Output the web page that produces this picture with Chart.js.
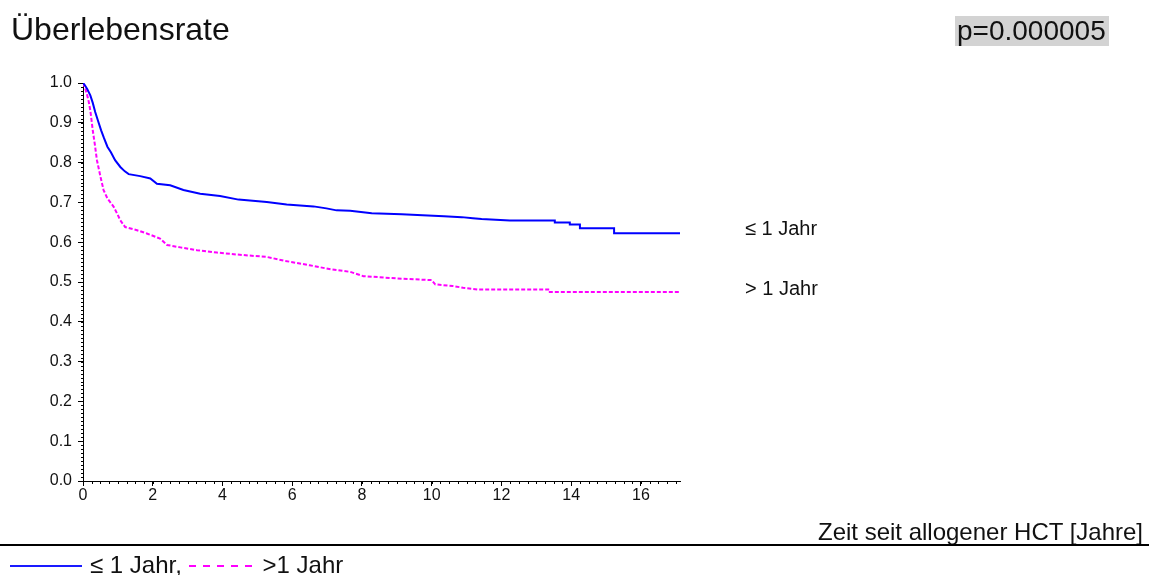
<!DOCTYPE html>
<html>
<head>
<meta charset="utf-8">
<script src="https://cdn.jsdelivr.net/npm/chart.js@4"></script>
<style>
  body { margin: 0; background: #fff; font-family: "Liberation Sans", Arial, sans-serif; color: #111; }
  #wrap { position: relative; width: 1154px; height: 575px; overflow: hidden; }
  #chart { position: absolute; left: 0; top: 0; }
  .txt { position: absolute; white-space: nowrap; }
  #title { left: 11px; top: 13px; font-size: 32px; line-height: 32px; }
  #pval { left: 955px; top: 16px; font-size: 28px; line-height: 30px; background: #d3d3d3; padding: 0 3px 0 2px; }
  .lbl { font-size: 20px; line-height: 20px; left: 745px; }
  #xtitle { right: 11px; top: 520px; font-size: 24px; line-height: 24px; }
  #rule { position: absolute; left: 0; top: 544px; width: 1149px; height: 2px; background: #000; }
  #legend { left: 10px; top: 553px; font-size: 24px; line-height: 24px; }
  .sw { display: inline-block; vertical-align: middle; width: 72px; height: 2px; margin-right: 8px; position: relative; top: -1px; }
  .solid { background: #1a1aff; }
  .dash { width: 66px; margin-left: 0; background: repeating-linear-gradient(90deg, #ff00ff 0 7px, transparent 7px 14px); }
</style>
</head>
<body>
<div id="wrap">
  <canvas id="chart" width="1154" height="575"></canvas>
  <div class="txt" id="title">Überlebensrate</div>
  <div class="txt" id="pval">p=0.000005</div>
  <div class="txt lbl" style="top:218px">≤ 1 Jahr</div>
  <div class="txt lbl" style="top:278px">&gt; 1 Jahr</div>
  <div class="txt" id="xtitle">Zeit seit allogener HCT [Jahre]</div>
  <div id="rule"></div>
  <div class="txt" id="legend"><span class="sw solid"></span>≤ 1 Jahr, <span class="sw dash"></span>&gt;1 Jahr</div>
</div>
<script>
// survival, group <= 1 year (repeated times mark the visible steps)
const timesLow = [0, 0.05, 0.12, 0.21, 0.28, 0.35, 0.43, 0.52, 0.6, 0.7, 0.8, 0.92, 1.07, 1.2, 1.31, 1.64, 1.93, 2.12, 2.5, 2.88, 3.36, 3.93, 4.46, 5.27, 5.84, 6.61, 6.98, 7.27, 7.66, 8.28, 9.14, 9.74, 10.35, 10.86, 11.18, 11.43, 12.24, 13.53, 13.53, 13.96, 13.96, 14.25, 14.25, 15.23, 15.23, 17.15];
const survLow = [1.0, 0.995, 0.985, 0.969, 0.95, 0.927, 0.905, 0.881, 0.862, 0.84, 0.826, 0.806, 0.789, 0.778, 0.771, 0.766, 0.76, 0.747, 0.743, 0.731, 0.722, 0.716, 0.707, 0.701, 0.695, 0.69, 0.685, 0.68, 0.679, 0.673, 0.67, 0.668, 0.665, 0.663, 0.66, 0.658, 0.6545, 0.6545, 0.6495, 0.6495, 0.6445, 0.6445, 0.635, 0.635, 0.6226, 0.6226];

// survival, group > 1 year
const timesHigh = [0, 0.05, 0.11, 0.16, 0.21, 0.28, 0.34, 0.4, 0.5, 0.59, 0.7, 0.88, 1.0, 1.07, 1.21, 1.55, 1.83, 2.21, 2.41, 2.79, 3.27, 3.84, 4.41, 5.27, 5.8, 6.5, 7.1, 7.66, 8.04, 9.0, 10.0, 10.1, 10.6, 10.9, 11.34, 13.34, 13.34, 17.15];
const survHigh = [1.0, 0.99, 0.973, 0.955, 0.931, 0.881, 0.845, 0.806, 0.765, 0.731, 0.71, 0.689, 0.668, 0.655, 0.638, 0.63, 0.622, 0.609, 0.593, 0.587, 0.58, 0.574, 0.569, 0.563, 0.553, 0.542, 0.532, 0.5255, 0.5147, 0.509, 0.5047, 0.494, 0.49, 0.4855, 0.481, 0.481, 0.475, 0.475];

const xTicks = [0, 2, 4, 6, 8, 10, 12, 14, 16];
const yTicks = [0.0, 0.1, 0.2, 0.3, 0.4, 0.5, 0.6, 0.7, 0.8, 0.9, 1.0];

const xMax = 17.12;

function pts(xs, ys) {
    return xs.map((x, i) => ({ x: x, y: ys[i] }));
}

// small ticks between the labelled ones
const minorTicks = {
    id: 'minorTicks',
    afterDraw(chart) {
        const ctx = chart.ctx;
        const xs = chart.scales.x, ys = chart.scales.y;
        const x0 = xs.getPixelForValue(0), y0 = ys.getPixelForValue(0);
        ctx.save();
        ctx.strokeStyle = '#000';
        ctx.lineWidth = 1;
        ctx.beginPath();
        for (let t = 0.25; t <= xMax; t += 0.25) {
            const px = Math.round(xs.getPixelForValue(t)) + 0.5;
            ctx.moveTo(px, y0);
            ctx.lineTo(px, y0 + 3);
        }
        for (let k = 1; k < 100; k++) {
            const py = Math.round(ys.getPixelForValue(k / 100)) + 0.5;
            ctx.moveTo(x0, py);
            ctx.lineTo(x0 - 2, py);
        }
        ctx.stroke();
        ctx.restore();
    }
};

new Chart(document.getElementById('chart'), {
    type: 'line',
    data: {
        datasets: [
            {
                label: '≤ 1 Jahr',
                data: pts(timesLow, survLow),
                borderColor: '#0000ff',
                borderWidth: 2,
                pointRadius: 0,
                tension: 0,
                fill: false
            },
            {
                label: '>1 Jahr',
                data: pts(timesHigh, survHigh),
                borderColor: '#ff00ff',
                borderWidth: 2,
                borderDash: [4, 2],
                pointRadius: 0,
                tension: 0,
                fill: false
            }
        ]
    },
    plugins: [minorTicks],
    options: {
        responsive: false,
        animation: false,
        layout: { padding: { top: 83, right: 474, left: 0, bottom: 0 } },
        plugins: { legend: { display: false }, tooltip: { enabled: false } },
        scales: {
            x: {
                type: 'linear',
                min: 0,
                max: xMax,
                afterBuildTicks(scale) { scale.ticks = xTicks.map(v => ({ value: v })); },
                afterFit(scale) { scale.height = 94; },
                ticks: { color: '#111', font: { family: 'Liberation Sans', size: 16 }, padding: 0, maxRotation: 0 },
                grid: { drawOnChartArea: false, drawTicks: true, tickLength: 5, color: '#000' },
                border: { color: '#000', width: 1 }
            },
            y: {
                type: 'linear',
                min: 0,
                max: 1,
                afterBuildTicks(scale) { scale.ticks = yTicks.map(v => ({ value: v })); },
                afterFit(scale) { scale.width = 83; },
                ticks: { color: '#111', font: { family: 'Liberation Sans', size: 16 }, padding: 6, callback: v => v.toFixed(1) },
                grid: { drawOnChartArea: false, drawTicks: true, tickLength: 5, color: '#000' },
                border: { color: '#000', width: 1 }
            }
        }
    }
});
</script>
</body>
</html>
